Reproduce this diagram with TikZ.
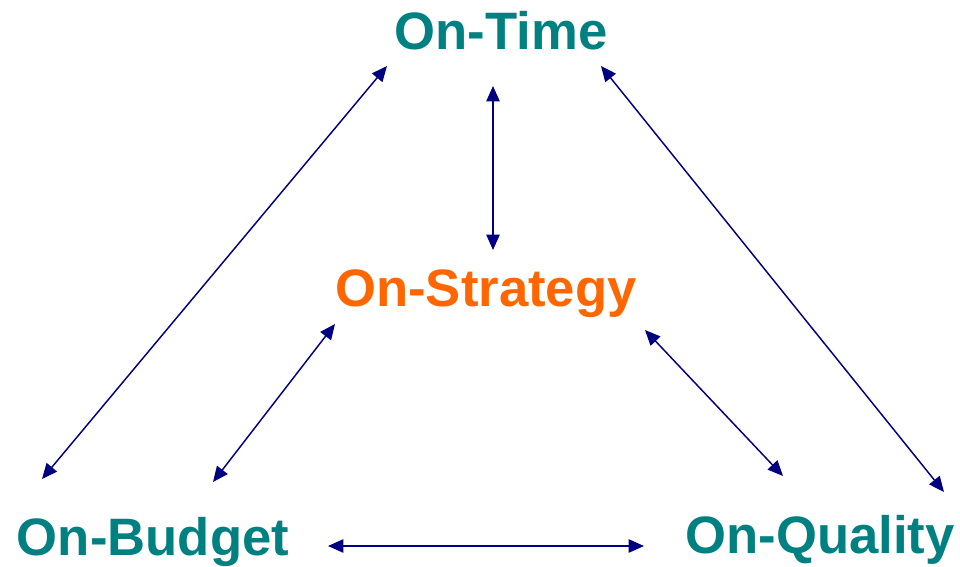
\documentclass[tikz,border=0pt]{standalone}
\usepackage{fontspec}
\setmainfont{Liberation Sans}
\usepackage{tikz}
\usetikzlibrary{arrows.meta}

\definecolor{goalteal}{HTML}{008080}
\definecolor{goalorange}{HTML}{FF6600}
\definecolor{linknavy}{HTML}{000080}

\tikzset{
  goal/.style={anchor=base, inner sep=0pt, font=\bfseries\fontsize{39.5}{46}\selectfont, text=goalteal},
  link/.style={linknavy, line width=1.1pt, {Triangle[length=11.5pt,width=10pt]}-{Triangle[length=11.5pt,width=10pt]}}
}

\begin{document}
\begin{tikzpicture}[x=0.75pt, y=-0.75pt]
            \useasboundingbox (0,0) rectangle (960,567);
            \node[goal] (time) at (501,50) {On-Time};
            \node[goal, text=goalorange] (strategy) at (486,306) {On-Strategy};
            \node[goal] (budget) at (153,555) {On-Budget};
            \node[goal] (quality) at (820,553) {On-Quality};
            % arrow ends
            \coordinate (tl) at (387,66);
            \coordinate (bl) at (42,479);
            \coordinate (tc) at (493,86);
            \coordinate (sc) at (493,250);
            \coordinate (tr) at (601,66);
            \coordinate (qr) at (944,492);
            \coordinate (sl) at (335,324);
            \coordinate (bc) at (213,482);
            \coordinate (sr) at (645,330);
            \coordinate (ql) at (783,476);
            \coordinate (bq) at (328,546);
            \coordinate (qb) at (644,546);
            \draw[link] (tl) -- (bl);
            \draw[link] (tc) -- (sc);
            \draw[link] (tr) -- (qr);
            \draw[link] (sl) -- (bc);
            \draw[link] (sr) -- (ql);
            \draw[link] (bq) -- (qb);
        \end{tikzpicture}
\end{document}
